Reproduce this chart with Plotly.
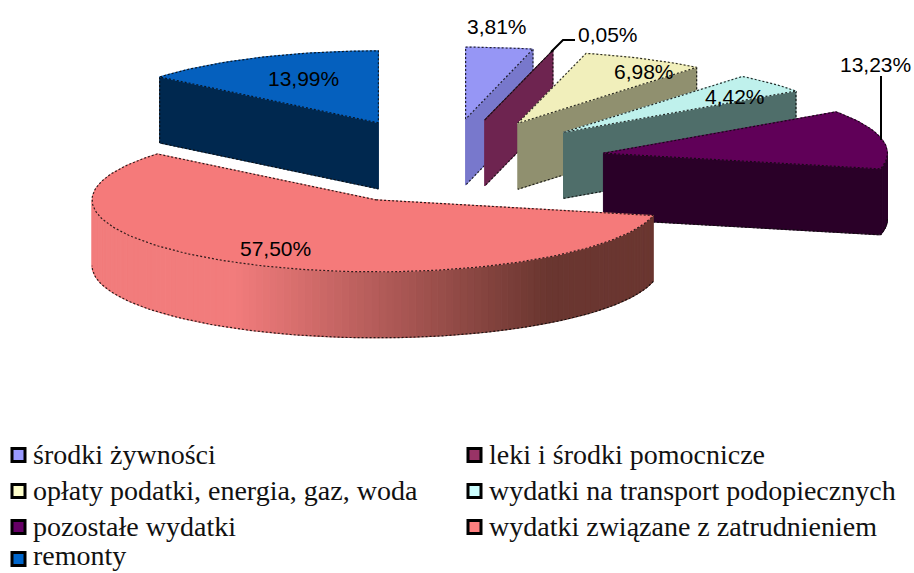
import math
import plotly.graph_objects as go

categories = ["środki żywności", "leki i środki pomocnicze", "opłaty podatki, energia, gaz, woda",
              "wydatki na transport podopiecznych", "pozostałe wydatki",
              "wydatki związane z zatrudnieniem", "remonty"]
values = [3.81, 0.05, 6.98, 4.42, 13.23, 57.50, 13.99]
legend_colors = ["#9999FF", "#993366", "#FFFFCC", "#CCFFFF", "#660066", "#FF8080", "#0066CC"]
top_colors = ["#9696F5", "#7A2A55", "#F1EFBB", "#BFF1EC", "#600058", "#F57A7A", "#0560BE"]
wall_colors = ["#7878CC", "#6E2450", "#90906F", "#4F6E6A", "#2A0028", "#6A3630", "#00284F"]

# pie geometry in pixels of the 914x573 canvas
CX, CY = 446.5, 161.5
EX, EY = 160, 42.7
RX, RY = 284, 72
DEPTH = 66
label_pos = [(497, 26), (608, 34), (644, 71), (735, 96), (875, 64), (275, 248), (303, 78)]
LEG_X = [18.5, 474.5]
LEG_Y = [455, 491, 527, 559]

def rgb(h):
    return tuple(int(h[i:i + 2], 16) for i in (1, 3, 5))

def mix(a, b, t):
    ca, cb = rgb(a), rgb(b)
    return "rgb(%d,%d,%d)" % tuple(round(ca[i] + (cb[i] - ca[i]) * t) for i in range(3))

fig = go.Figure()

def poly(xs, ys, fill, edge=None, width=1):
    fig.add_trace(go.Scatter(x=xs, y=ys, mode="lines", fill="toself", fillcolor=fill,
                             line=dict(color=edge or fill, width=width),
                             hoverinfo="skip", showlegend=False))

def outline(xs, ys):
    fig.add_trace(go.Scatter(x=xs, y=ys, mode="lines",
                             line=dict(color="rgba(10,10,10,0.85)", width=1.2, dash="2px,2px"),
                             hoverinfo="skip", showlegend=False))

total = sum(values)
angle = 0.0
slices = []
for i, v in enumerate(values):
    sweep = 360 * v / total
    slices.append((i, angle, angle + sweep))
    angle += sweep

# back-to-front painting order
order = [6, 0, 1, 2, 3, 4, 5]
for i, a, b in [slices[k] for k in order]:
    mid = math.radians((a + b) / 2)
    ax = CX + EX * math.sin(mid)
    ay = CY - EY * math.cos(mid)
    rim = lambda t: (ax + RX * math.sin(math.radians(t)), ay - RY * math.cos(math.radians(t)))

    # radial cut faces that look at the viewer
    for t, vis in ((a, math.sin(math.radians(a)) < -1e-6), (b, math.sin(math.radians(b)) > 1e-6)):
        if vis:
            x, y = rim(t)
            xs = [ax, x, x, ax, ax]
            ys = [ay, y, y + DEPTH, ay + DEPTH, ay]
            poly(xs, ys, wall_colors[i])
            outline(xs[1:4], ys[1:4])

    # rim wall with its horizontal shading
    lo, hi = max(a, 90), min(b, 270)
    if hi > lo:
        n = max(1, int((hi - lo) / 1.5))
        ts = [lo + (hi - lo) * k / n for k in range(n + 1)]
        for t0, t1 in zip(ts[:-1], ts[1:]):
            x0, y0 = rim(t0)
            x1, y1 = rim(t1)
            if i == 5:
                f = (((x0 + x1) / 2) - (ax - RX)) / (2 * RX)
                col = mix("#F27C7C", "#6A3630", min(1, max(0, (f - 0.25) / 0.55)))
            else:
                col = wall_colors[i]
            poly([x0, x1, x1, x0, x0], [y0, y1, y1 + DEPTH, y0 + DEPTH, y0], col)
        bottom = [rim(t) for t in ts]
        outline([p[0] for p in bottom], [p[1] + DEPTH for p in bottom])

    # top face
    n = max(2, int((b - a) / 1.5))
    arc = [rim(a + (b - a) * k / n) for k in range(n + 1)]
    xs = [ax] + [p[0] for p in arc] + [ax]
    ys = [ay] + [p[1] for p in arc] + [ay]
    poly(xs, ys, top_colors[i])
    outline(xs, ys)

# leader lines
for lx, ly in (([551, 563, 575], [52, 40, 40]), ([881, 881], [76, 140])):
    fig.add_trace(go.Scatter(x=lx, y=ly, mode="lines", line=dict(color="black", width=2),
                             hoverinfo="skip", showlegend=False))

# legend: two columns filled row by row
for k, (name, col) in enumerate(zip(categories, legend_colors)):
    mx, my = LEG_X[k % 2], LEG_Y[k // 2]
    fig.add_trace(go.Scatter(x=[mx], y=[my], mode="markers", name=name, hoverinfo="name",
                             showlegend=False,
                             marker=dict(symbol="square", size=13, color=col,
                                         line=dict(color="black", width=3))))
    fig.add_annotation(x=mx + 12.5, y=min(my - 1, 555), xref="x", yref="y", showarrow=False,
                       xanchor="left", yanchor="middle", text=name,
                       font=dict(family="Liberation Serif", size=28, color="#111111"))

for v, (x, y) in zip(values, label_pos):
    fig.add_annotation(x=x, y=y, xref="x", yref="y", showarrow=False,
                       text=f"{v:.2f}".replace(".", ",") + "%",
                       font=dict(family="Liberation Sans", size=21, color="black"))

fig.update_layout(
    width=914, height=573, autosize=False,
    margin=dict(l=0, r=0, t=0, b=0),
    paper_bgcolor="white", plot_bgcolor="white",
    xaxis=dict(range=[0, 914], visible=False, fixedrange=True),
    yaxis=dict(range=[573, 0], visible=False, fixedrange=True),
    showlegend=False,
)
fig.write_html("out.html", config={"displayModeBar": False},
               post_script="document.body.style.margin='0';document.body.style.overflow='hidden';")
